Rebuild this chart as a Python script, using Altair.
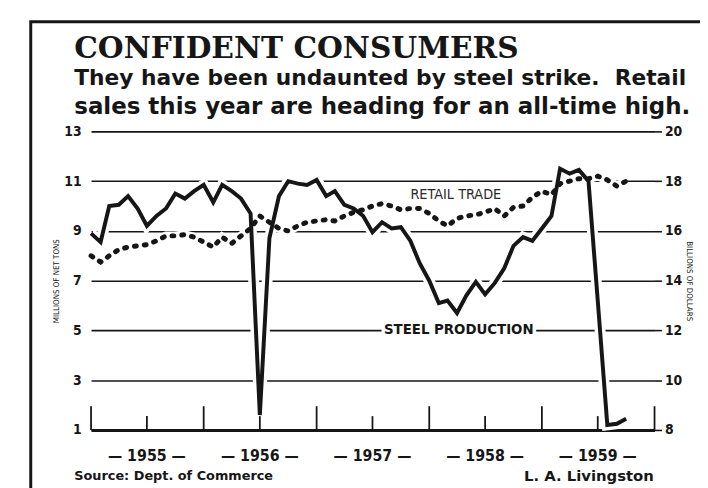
import altair as alt
import pandas as pd

# ---------------- data ----------------
months = pd.date_range("1955-01-01", periods=58, freq="MS")  # Jan 1955 .. Oct 1959

# Steel production, millions of net tons (left axis)
steel = [8.9, 8.55, 10.0, 10.05, 10.4, 9.9, 9.2, 9.6, 9.9, 10.5, 10.3, 10.6,        # 1955
         10.85, 10.15, 10.85, 10.6, 10.3, 9.7, 1.6, 8.7, 10.4, 11.0, 10.9, 10.85,   # 1956
         11.05, 10.4, 10.6, 10.05, 9.9, 9.6, 8.95, 9.35, 9.1, 9.15, 8.6, 7.7,       # 1957
         7.0, 6.1, 6.2, 5.7, 6.4, 6.95, 6.45, 6.9, 7.5, 8.4, 8.75, 8.6,             # 1958
         9.1, 9.6, 11.5, 11.3, 11.45, 11.0, 6.2, 1.2, 1.25, 1.45]                   # 1959

# Retail trade, billions of dollars (right axis)
retail = [15.0, 14.75, 15.0, 15.25, 15.35, 15.4, 15.45, 15.6, 15.8, 15.8, 15.85, 15.75,
          15.55, 15.35, 15.75, 15.5, 15.8, 16.1, 16.6, 16.35, 16.1, 16.0, 16.2, 16.35,
          16.4, 16.45, 16.4, 16.6, 16.75, 16.85, 17.0, 17.1, 17.0, 16.85, 16.9, 16.9,
          16.7, 16.4, 16.2, 16.5, 16.6, 16.65, 16.75, 16.9, 16.6, 16.95, 17.0, 17.35,
          17.6, 17.45, 17.9, 18.0, 18.1, 18.1, 18.2, 18.05, 17.8, 18.0]

left_ticks = [1, 3, 5, 7, 9, 11, 13]
right_ticks = [8, 10, 12, 14, 16, 18, 20]
year_starts = ["1955-01-01", "1956-01-01", "1957-01-01", "1958-01-01", "1959-01-01", "1960-01-01"]
mid_years = ["1955-07-01", "1956-07-01", "1957-07-01", "1958-07-01", "1959-07-01"]
year_labels = ["\u2014 1955 \u2014", "\u2014 1956 \u2014", "\u2014 1957 \u2014", "\u2014 1958 \u2014", "\u2014 1959 \u2014"]

title_text = "CONFIDENT CONSUMERS"
sub1 = "They have been undaunted by steel strike.\u00a0 Retail"
sub2 = "sales this year are heading for an all-time high."

df = pd.DataFrame({"date": months, "steel": steel, "retail": retail})

# ---------------- styling ----------------
INK = "#161616"
W, H = 570, 302
COND = "DejaVu Sans Condensed"

xdom = [alt.DateTime(year=1955, month=1, date=1), alt.DateTime(year=1960, month=1, date=1)]
X = alt.X("date:T", scale=alt.Scale(domain=xdom),
          axis=alt.Axis(title=None, labels=False, ticks=False, grid=False,
                        domainColor=INK, domainWidth=3))

s_scale = alt.Scale(domain=[1, 13], nice=False, zero=False)
r_scale = alt.Scale(domain=[8, 20], nice=False, zero=False)

steel_axis = alt.Axis(orient="left", values=left_ticks, title="MILLIONS OF NET TONS",
                      grid=True, gridColor=INK, gridWidth=1.6, domain=False, ticks=False,
                      labelFont=COND, labelFontWeight="bold", labelFontSize=14,
                      labelColor=INK, labelPadding=10,
                      titleFont=COND, titleFontSize=8, titleFontWeight="normal",
                      titleColor=INK, titlePadding=3)
retail_axis = alt.Axis(orient="right", values=right_ticks, title="BILLIONS OF DOLLARS",
                       grid=False, domain=False, ticks=True, tickSize=7, tickColor=INK,
                       tickWidth=1.6, labelFont=COND, labelFontWeight="bold",
                       labelFontSize=14, labelColor=INK, labelPadding=3,
                       titleFont=COND, titleFontSize=8, titleFontWeight="normal",
                       titleColor=INK, titlePadding=3)

base = alt.Chart(df)
steel_halo = base.mark_line(color="white", strokeWidth=11).encode(
    x=X, y=alt.Y("steel:Q", scale=s_scale, axis=None))
retail_halo = base.mark_line(color="white", strokeWidth=9).encode(
    x=X, y=alt.Y("retail:Q", scale=r_scale, axis=None))
steel_line = base.mark_line(color=INK, strokeWidth=4, strokeJoin="miter",
                            strokeMiterLimit=3).encode(
    x=X, y=alt.Y("steel:Q", scale=s_scale, axis=steel_axis))
retail_line = base.mark_line(color=INK, strokeWidth=5, strokeDash=[2, 8],
                             strokeCap="round").encode(
    x=X, y=alt.Y("retail:Q", scale=r_scale, axis=retail_axis))

tall_ticks = alt.Chart(pd.DataFrame({"date": pd.to_datetime(year_starts)})).mark_rule(
    color=INK, strokeWidth=1.8).encode(x=X, y=alt.value(H), y2=alt.value(H - 24))
short_ticks = alt.Chart(pd.DataFrame({"date": pd.to_datetime(mid_years)})).mark_rule(
    color=INK, strokeWidth=1.8).encode(x=X, y=alt.value(H), y2=alt.value(H - 14))
years = alt.Chart(pd.DataFrame({"date": pd.to_datetime(mid_years), "label": year_labels})).mark_text(
    font=COND, fontSize=16, fontWeight="bold", color=INK, baseline="middle").encode(
    x=X, y=alt.value(H + 26), text="label:N")


def label(text, x, y, **kw):
    return alt.Chart(pd.DataFrame({"t": [text]})).mark_text(**kw).encode(
        x=alt.value(x), y=alt.value(y), text="t:N")


border = alt.Chart(pd.DataFrame({"a": [0]})).mark_rect(
    filled=False, stroke=INK, strokeWidth=3).encode(
    x=alt.value(-61), x2=alt.value(700), y=alt.value(-111), y2=alt.value(500))

title = label(title_text, -17, -74, align="left", baseline="alphabetic",
              font="DejaVu Serif", fontWeight="bold", fontSize=30, color=INK)
st1 = label(sub1, -17, -47, align="left", baseline="alphabetic",
            font="DejaVu Sans", fontWeight="bold", fontSize=22, color=INK)
st2 = label(sub2, -17, -18, align="left", baseline="alphabetic",
            font="DejaVu Sans", fontWeight="bold", fontSize=23.2, color=INK)

retail_lbl = label("RETAIL TRADE", 369, 64, align="center", baseline="middle",
                   font=COND, fontSize=14.5, color="#2a2a2a")
steel_lbl_halo = label("STEEL PRODUCTION", 372, 200, align="center", baseline="middle",
                       font=COND, fontSize=15, fontWeight="bold", color="white",
                       stroke="white", strokeWidth=7)
steel_lbl = label("STEEL PRODUCTION", 372, 200, align="center", baseline="middle",
                  font=COND, fontSize=15, fontWeight="bold", color=INK)

source = label("Source: Dept. of Commerce", -17, 353, align="left", baseline="alphabetic",
               font="DejaVu Sans", fontWeight="bold", fontSize=13, color=INK)
credit = label("L. A. Livingston", 438, 354, align="left", baseline="alphabetic",
               font="DejaVu Sans", fontWeight="bold", fontSize=15, color=INK)

chart = alt.layer(
    border, steel_halo, retail_halo, tall_ticks, short_ticks,
    steel_line, retail_line, years, retail_lbl, steel_lbl_halo, steel_lbl,
    title, st1, st2, source, credit,
).resolve_scale(y="independent").properties(
    width=W, height=H,
    autosize=alt.AutoSizeParams(type="none"),
    padding={"left": 84, "top": 122, "right": 46, "bottom": 66},
    background="white",
).configure_view(stroke=None)

chart.save("out.html", embed_options={"renderer": "svg", "actions": False})
